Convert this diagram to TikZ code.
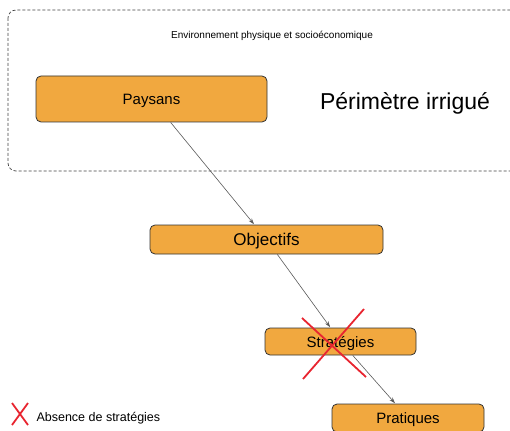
\documentclass[tikz,border=0pt]{standalone}
\usepackage{fontspec}
\setmainfont{Liberation Sans}
\usetikzlibrary{positioning,arrows.meta}
\definecolor{boxorange}{HTML}{F1A83F}
\definecolor{crossred}{HTML}{E82530}

\begin{document}
\begin{tikzpicture}[
    x=1pt, y=-1pt,
    Pbox/.style={rectangle, rounded corners=5pt, fill=boxorange, draw=black!80, line width=0.8pt, inner sep=0pt, text depth=0pt},
    envbox/.style={dashed, dash pattern=on 3pt off 2pt, rounded corners=8pt, draw=black!75, line width=0.7pt},
    lnk/.style={-{Stealth[length=6pt, width=4pt]}, draw=black!65, line width=0.6pt, shorten >=0.5pt},
    xmark/.style={draw=crossred, line width=1.8pt},
    txt/.style={font=\fontsize{10}{12}\selectfont, text depth=0pt},
    Plbl/.style={font=\fontsize{15}{18}\selectfont},
]
\useasboundingbox (0, 0) rectangle (510, 430);
\clip (0, 0) rectangle (510, 430);
% environnement
\draw[envbox] (8, 10) rectangle (530, 171);
\node[txt] (env) at (272, 35) {Environnement physique et socioéconomique};
\node[font=\fontsize{23}{27}\selectfont, text depth=0pt] (perim) at (405, 101) {Périmètre irrigué};
% boites
\node[Pbox, Plbl, minimum width=231, minimum height=46] (paysans) at (151.5, 99) {Paysans};
\node[Pbox, font=\fontsize{17}{20}\selectfont, minimum width=233, minimum height=29] (objectifs) at (266.5, 239.5) {Objectifs};
\node[Pbox, Plbl, minimum width=151, minimum height=27] (strategies) at (340.5, 341.5) {Stratégies};
\node[Pbox, Plbl, minimum width=152, minimum height=28] (pratiques) at (408, 418) {Pratiques};
% liens
\draw[lnk] (paysans) -- (objectifs);
\draw[lnk] (objectifs) -- (strategies);
\draw[lnk] (strategies) -- (pratiques);
% croix
\draw[xmark] (302, 318) -- (366, 377);
\draw[xmark] (364, 309) -- (303, 379);
% legende
\draw[xmark] (12, 403) -- (28, 425);
\draw[xmark] (28, 403) -- (12, 425);
\node[font=\fontsize{12.5}{15}\selectfont, anchor=west, text depth=0pt] (legende) at (33, 417) {Absence de stratégies};
\end{tikzpicture}
\end{document}
